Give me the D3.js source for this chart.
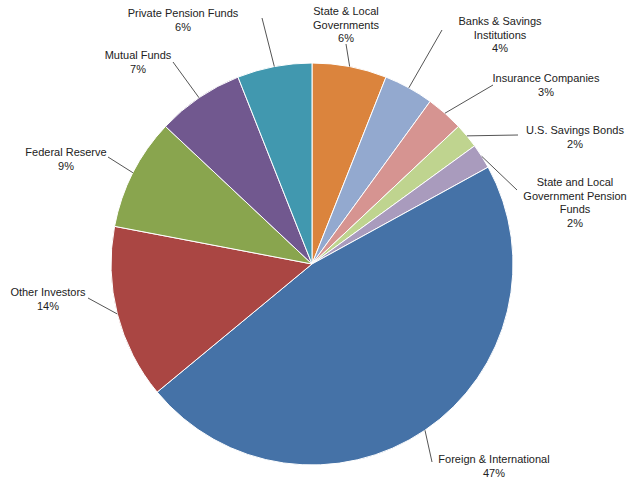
<!DOCTYPE html>
<html><head><meta charset="utf-8">
<script src="https://cdn.jsdelivr.net/npm/d3@7.9.0/dist/d3.min.js"></script>
<style>body{margin:0;background:#fff}text{font-family:"Liberation Sans",Arial,sans-serif;font-size:11px;fill:#222}</style>
</head><body><svg id="chart" width="631" height="480"></svg>
<script>
const labels = ["State & Local\nGovernments", "Banks & Savings\nInstitutions", "Insurance Companies", "U.S. Savings Bonds",
  "State and Local\nGovernment Pension\nFunds", "Foreign & International", "Other Investors", "Federal Reserve",
  "Mutual Funds", "Private Pension Funds"];
const values = [6, 4, 3, 2, 2, 47, 14, 9, 7, 6];
const colors = ["#DB843D", "#93A9CF", "#D69491", "#BFD48F", "#A99BBD", "#4572A7", "#AA4643", "#89A54E", "#71588F", "#4198AF"];
// label text centre (first line baseline) and leader-line start
const labelPos = [[346, 15, 346, 44], [500, 25, 442, 30], [546, 82, 493, 85], [575, 134, 518, 135],
  [575, 186, 517, 190], [494, 463, 432, 462], [48, 296, 88, 298], [66, 156, 108, 157], [138, 59, 173, 62], [183, 17, 262, 18]];

const cx = 312, cy = 264, r = 201;
const svg = d3.select("#chart");
const g = svg.append("g").attr("transform", `translate(${cx},${cy})`);
const pie = d3.pie().sort(null).value(d => d);
const arc = d3.arc().innerRadius(0).outerRadius(r);
const arcs = pie(values);

g.selectAll("path").data(arcs).join("path")
  .attr("d", arc).attr("fill", (d, i) => colors[i])
  .attr("stroke", "#fff").attr("stroke-width", 1);

arcs.forEach((d, i) => {
  const a = (d.startAngle + d.endAngle) / 2;
  const ex = cx + Math.sin(a) * r, ey = cy - Math.cos(a) * r;
  const [tx, ty, lx, ly] = labelPos[i];
  svg.append("line").attr("x1", lx).attr("y1", ly).attr("x2", ex).attr("y2", ey)
    .attr("stroke", "#555").attr("stroke-width", 1);
  const lines = labels[i].split("\n").concat([values[i] + "%"]);
  const t = svg.append("text").attr("text-anchor", "middle");
  lines.forEach((s, k) => t.append("tspan").attr("x", tx).attr("y", ty + k * 13.5).text(s));
});
</script></body></html>
